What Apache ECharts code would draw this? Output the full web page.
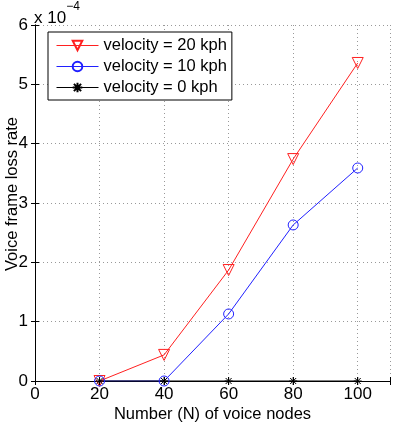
<!DOCTYPE html>
<html><head><meta charset="utf-8">
<script src="https://cdn.jsdelivr.net/npm/echarts@6/dist/echarts.min.js"></script>
<style>html,body{margin:0;padding:0;background:#fff}#c{width:393px;height:423px}</style>
</head><body><div id="c"></div>
<script>
const nodes = [20, 40, 60, 80, 100];
const v20 = [0, 0.44, 1.87, 3.74, 5.36];
const v10 = [0, 0, 1.13, 2.63, 3.59];
const v0 = [0, 0, 0, 0, 0];
const seriesNames = ['velocity = 20 kph', 'velocity = 10 kph', 'velocity = 0 kph'];
const xTicks = [0, 20, 40, 60, 80, 100];
const yTicks = [0, 1, 2, 3, 4, 5, 6];

const FONT = '"Liberation Sans", Arial, sans-serif';
const tri = 'path://M-5,-4L5,-4L0,5Z';
const star = 'path://M0,-4L0,4M-4,0L4,0M-3,-3L3,3M-3,3L3,-3';
const pair = a => nodes.map((n, i) => [n, a[i]]);

const chart = echarts.init(document.getElementById('c'), null, {renderer: 'canvas'});
const gridLine = {show: true, lineStyle: {color: '#999', type: [1, 3], width: 1}};
function mk(name, data, color, symbol, size) {
  return {
    name, type: 'line', data: pair(data), symbol, symbolSize: size,
    lineStyle: {color, width: 1}, itemStyle: {color: 'rgba(255,255,255,0)', borderColor: color, borderWidth: 1},
    emphasis: {disabled: true}, animation: false
  };
}
chart.setOption({
  animation: false,
  grid: {left: 35, right: 3, top: 25, bottom: 42, containLabel: false, outerBoundsMode: 'none'},
  xAxis: [{
    type: 'value', min: 0, max: 110, interval: 20, position: 'bottom',
    axisLine: {show: true, lineStyle: {color: '#000', width: 1}},
    axisTick: {show: true, inside: true, length: 4, lineStyle: {color: '#000'}},
    axisLabel: {color: '#000', fontSize: 17, fontFamily: FONT, margin: 5,
      formatter: v => xTicks.includes(v) ? String(v) : ''},
    splitLine: gridLine,
    name: 'Number (N) of voice nodes', nameLocation: 'middle', nameGap: 25, nameMoveOverlap: false,
    nameTextStyle: {color: '#000', fontSize: 16.5, fontFamily: FONT}
  }, {
    type: 'value', min: 0, max: 110, interval: 20, position: 'top',
    axisLine: {show: true, lineStyle: {color: '#000', width: 1}},
    axisTick: {show: true, inside: true, length: 4, lineStyle: {color: '#000'}},
    axisLabel: {show: false}, splitLine: {show: false}
  }],
  yAxis: [{
    type: 'value', min: 0, max: 6, interval: 1, position: 'left',
    axisLine: {show: true, lineStyle: {color: '#000', width: 1}},
    axisTick: {show: true, inside: true, length: 4, lineStyle: {color: '#000'}},
    axisLabel: {color: '#000', fontSize: 17, fontFamily: FONT, margin: 7,
      formatter: v => yTicks.includes(v) ? String(v) : ''},
    splitLine: gridLine,
    name: 'Voice frame loss rate', nameLocation: 'middle', nameGap: 14, nameRotate: 90, nameMoveOverlap: false,
    nameTextStyle: {color: '#000', fontSize: 16.5, fontFamily: FONT, padding: [0, 0, 0, 18]}
  }, {
    type: 'value', min: 0, max: 6, interval: 1, position: 'right',
    axisLine: {show: true, lineStyle: {color: '#000', width: 1}},
    axisTick: {show: true, inside: true, length: 4, lineStyle: {color: '#000'}},
    axisLabel: {show: false}, splitLine: {show: false}
  }],
  legend: {
    left: 48, top: 32, orient: 'vertical',
    data: seriesNames,
    backgroundColor: '#fff', borderColor: '#000', borderWidth: 1,
    padding: [5, 5, 4, 8], itemWidth: 42, itemHeight: 12, itemGap: 4,
    lineStyle: {width: 1},
    textStyle: {color: '#000', fontSize: 16.5, fontFamily: FONT},
    selectedMode: false
  },
  graphic: [{
    type: 'text', left: 34, top: 1,
    style: {
      text: '{a|x 10}{b|−4}', fill: '#000',
      rich: {
        a: {fontSize: 17, fontFamily: FONT, verticalAlign: 'bottom', padding: [9, 0, 0, 0]},
        b: {fontSize: 12, fontFamily: FONT, verticalAlign: 'top'}
      }
    }
  }],
  series: [
    mk(seriesNames[0], v20, '#ff2020', tri, 11),
    mk(seriesNames[1], v10, '#2020ff', 'circle', 10),
    mk(seriesNames[2], v0, '#000000', star, 8)
  ]
});
</script></body></html>
